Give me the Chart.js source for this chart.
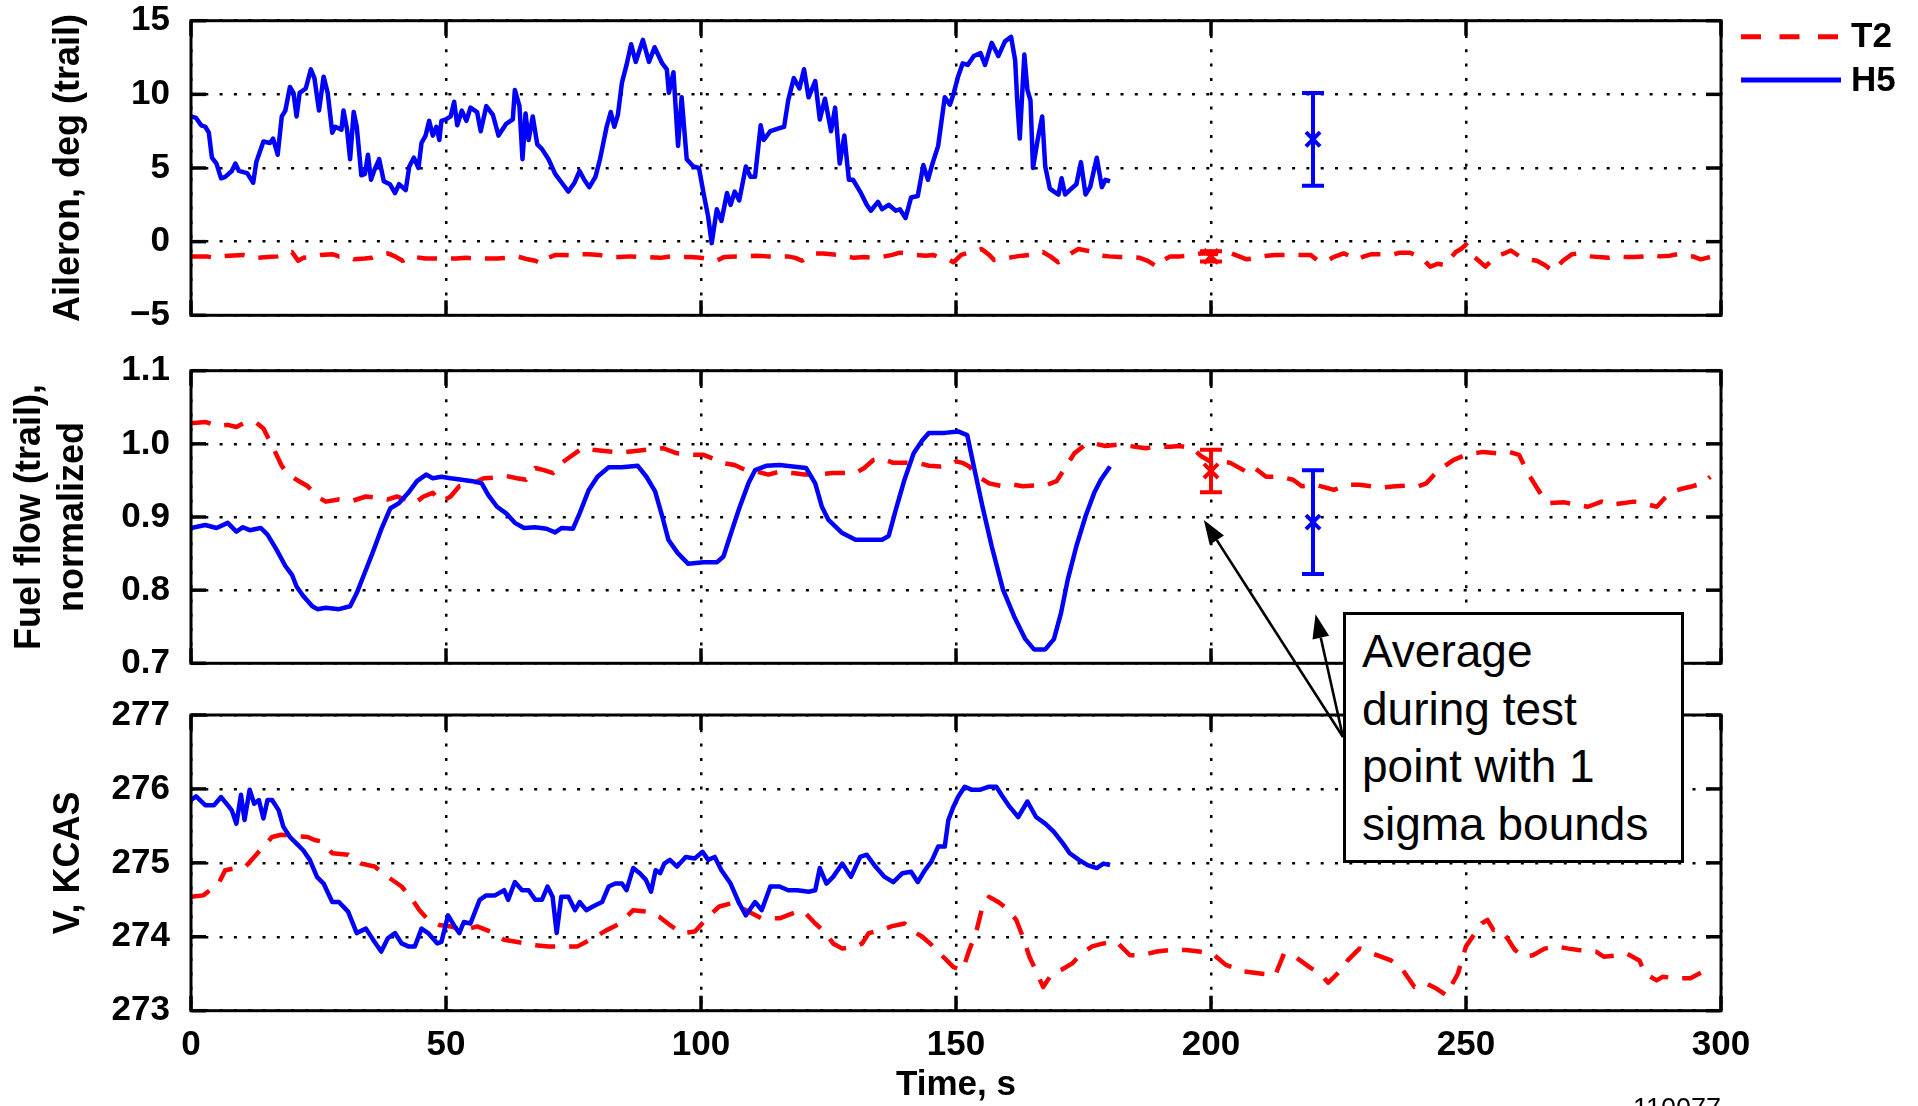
<!DOCTYPE html>
<html>
<head>
<meta charset="utf-8">
<script src="https://cdn.jsdelivr.net/npm/chart.js@4.4.1/dist/chart.umd.min.js"></script>
<style>
html,body{margin:0;padding:0;background:#fff;overflow:hidden;width:1918px;height:1106px;position:relative;}
canvas{position:absolute;left:0;}
#arrows{position:absolute;left:0;top:0;width:1918px;height:1106px;}
#note{position:absolute;left:1343px;top:612px;width:341px;height:251px;box-sizing:border-box;border:3px solid #000;background:#fff;
 font-family:"Liberation Sans",Arial,Helvetica,sans-serif;font-size:46px;line-height:57.5px;padding:8px 0 0 16px;color:#000;white-space:nowrap;}
#figid{position:absolute;left:1633px;top:1095px;font-family:"Liberation Sans",Arial,sans-serif;font-size:27px;line-height:27px;color:#000;}
</style>
</head>
<body>
<canvas id="c1" width="1918" height="345" style="top:0px"></canvas>
<canvas id="c2" width="1918" height="345" style="top:345px"></canvas>
<canvas id="c3" width="1918" height="416" style="top:690px"></canvas>
<svg id="arrows" xmlns="http://www.w3.org/2000/svg"></svg>
<div id="note">Average<br>during test<br>point with 1<br>sigma bounds</div>
<div id="figid">110077</div>
<script>
// ---------------- DATA ----------------
const seriesNames = ['T2', 'H5'];
const timeTicks = [0, 50, 100, 150, 200, 250, 300];
const aileronTicks = [-5, 0, 5, 10, 15];
const fuelTicks = [0.7, 0.8, 0.9, 1.0, 1.1];
const speedTicks = [273, 274, 275, 276, 277];

// [time s, value]
const h5Aileron = [[0,8.5],[1,8.4],[2,7.9],[2.8,7.8],[3.5,7.4],[4.1,5.7],[5,5.3],[5.9,4.3],[6.7,4.4],[8,4.8],[8.7,5.3],[9.4,4.8],[11,4.65],[12.2,4.0],[12.8,5.4],[14.2,6.8],[15.5,6.7],[16.1,7.0],[17,5.9],[17.8,8.5],[18.5,8.9],[19.4,10.5],[20.1,10.1],[20.7,8.5],[21.3,10.1],[22.5,10.4],[23.5,11.7],[24.2,11.1],[25.1,8.9],[26,11.2],[26.8,10.1],[27.7,7.4],[28.3,7.8],[29.5,7.6],[29.9,8.9],[30.6,7.6],[31.2,5.6],[31.9,8.8],[32.5,7.8],[33.4,4.5],[34.1,4.6],[34.7,5.9],[35.3,4.2],[36,4.9],[36.9,5.6],[37.8,4.1],[39,3.9],[40,3.3],[40.8,3.9],[42.1,3.5],[42.8,5.1],[43.7,5.7],[44.6,5.0],[45.2,6.7],[46,7.2],[46.7,8.2],[47.4,7.2],[48.1,7.8],[48.7,6.9],[49.1,8.2],[50,8.3],[50.9,8.5],[51.6,9.5],[52.2,7.9],[53.1,8.9],[54,8.2],[54.8,9.1],[56.1,8.8],[56.8,7.5],[57.9,9.2],[59.2,8.6],[60.3,7.2],[61.8,8.0],[63.1,8.3],[63.5,10.3],[64.4,9.2],[65,5.6],[65.6,8.7],[66.2,6.9],[67,8.5],[67.9,6.6],[68.8,6.3],[70.1,5.6],[71.4,4.6],[72.7,4.0],[74,3.4],[75.2,4.0],[76.2,4.8],[77.1,4.2],[78.1,3.7],[79.3,4.4],[80.2,5.6],[81.5,7.8],[82.3,8.8],[83,7.8],[83.7,8.6],[84.5,10.8],[85.4,12.0],[86.3,13.4],[87.2,12.2],[88.6,13.7],[89.8,12.2],[90.9,13.2],[92.4,12.1],[93.3,11.7],[93.7,10.1],[94.6,11.5],[95.5,6.5],[96.2,9.8],[97.2,5.6],[98.5,5.1],[99.6,5.0],[100.5,3.3],[101.4,1.7],[102.1,-0.1],[103.1,2.2],[104,1.4],[105.1,3.3],[105.8,2.5],[106.6,3.4],[107.5,2.8],[108.8,5.1],[109.7,4.4],[110.6,4.4],[111.7,7.9],[112.3,6.9],[113.6,7.5],[115.4,7.7],[116.3,7.8],[117.1,9.6],[118.2,11.1],[119.3,10.4],[120.2,11.7],[121.1,9.8],[122.4,10.9],[123.3,8.3],[124.3,9.7],[125.5,7.5],[126.3,9.1],[127.2,5.3],[128.1,7.2],[129,4.2],[129.8,4.2],[131.2,3.4],[132.5,2.5],[133.3,2.1],[134.7,2.7],[135.5,2.2],[136.8,2.5],[138.2,2.1],[139,2.2],[140.1,1.6],[141.2,3.0],[142.5,3.1],[143.6,5.2],[144.5,4.2],[145.3,5.2],[146.5,6.5],[147.8,9.8],[148.8,9.3],[149.5,10.0],[150.4,11.2],[151.3,12.1],[152.3,12.0],[153.5,12.6],[154.8,12.8],[155.7,12.0],[157,13.5],[158.3,12.6],[159.6,13.6],[160.8,13.9],[161.6,12.3],[162,9.6],[162.5,7.0],[163.4,12.7],[164,10.3],[164.6,9.6],[165.1,5.0],[166,6.9],[166.9,8.5],[167.5,5.1],[168.4,3.6],[169.2,3.4],[170.1,3.2],[170.7,4.3],[171.4,3.2],[172.3,3.5],[173.6,3.9],[174.5,5.4],[175.4,3.2],[176.3,3.7],[177.6,5.7],[178.6,3.7],[179.3,4.2],[180.2,4.1]];

const t2Aileron = [[0,-1.0],[3,-1.0],[4.8,-1.1],[6,-1.0],[7.5,-0.95],[10.2,-0.9],[11.5,-1.0],[12.8,-1.1],[15,-1.05],[17,-1.0],[18.5,-0.85],[19.8,-0.7],[21,-1.3],[22,-1.1],[23.5,-1.05],[25.5,-0.9],[27.7,-0.85],[29,-1.0],[30.5,-1.0],[32,-1.2],[34,-1.15],[35.5,-1.1],[37,-0.9],[38.6,-0.8],[40,-1.0],[41.5,-1.3],[42.8,-1.0],[44,-1.05],[46,-1.15],[48,-1.15],[50,-1.15],[52,-1.15],[54,-1.1],[56,-1.15],[58,-1.15],[60,-1.15],[62,-1.1],[64,-1.0],[66,-1.2],[67.5,-1.3],[68.8,-1.5],[70,-1.1],[71.5,-0.9],[73,-0.9],[75,-0.95],[76.5,-0.85],[78,-0.85],[80,-0.9],[82,-1.05],[84,-1.05],[86,-1.0],[88,-1.05],[90,-1.05],[92,-1.1],[94,-1.0],[96,-1.05],[98,-1.05],[100,-1.1],[102,-1.2],[103,-1.3],[104.5,-1.05],[107,-1.0],[109,-1.0],[111,-0.95],[113,-1.0],[115,-1.0],[117,-1.0],[118.5,-1.1],[119.8,-1.3],[121,-1.0],[122.5,-0.8],[124,-0.8],[125.5,-0.85],[127,-0.9],[128.5,-1.0],[130,-1.1],[132,-1.05],[134,-1.1],[136,-1.0],[137.5,-0.9],[139,-0.75],[140.5,-0.8],[142,-0.9],[144,-0.95],[145.5,-0.9],[147,-1.1],[148.5,-1.2],[149.5,-1.4],[151,-0.9],[153,-0.7],[155,-0.5],[156.5,-0.9],[157.5,-1.25],[159,-1.2],[161,-1.05],[163,-0.95],[164.5,-0.9],[166,-0.8],[167,-0.7],[168.5,-1.0],[170,-1.4],[171,-1.2],[172.5,-0.8],[174,-0.5],[175.5,-0.6],[177,-0.7],[178.5,-0.95],[180,-1.0],[182,-1.05],[184,-1.05],[186,-1.1],[187.6,-1.3],[189.4,-1.7],[190.5,-1.3],[192,-1.0],[194,-1.0],[196,-0.95],[198,-0.8],[200,-0.8],[202,-0.85],[204,-0.8],[205.5,-1.0],[207,-1.2],[209,-1.1],[211,-0.95],[212.6,-0.9],[214.5,-0.9],[216,-0.85],[217.5,-0.9],[219.5,-0.9],[221,-1.3],[222.5,-1.35],[224,-1.05],[226,-0.8],[227.5,-1.0],[228.7,-1.2],[230,-1.0],[231.5,-0.85],[233.7,-0.85],[235.5,-0.9],[237,-0.75],[239,-0.75],[240.7,-1.0],[242,-1.35],[243,-1.7],[244.5,-1.5],[246,-1.6],[247,-1.1],[248,-0.7],[249,-0.5],[250,-0.2],[251.5,-1.0],[252.5,-1.3],[253.8,-1.7],[255,-1.3],[256,-1.0],[257.5,-0.8],[258.8,-0.6],[260.5,-1.0],[262,-1.2],[263.9,-1.3],[265.5,-1.6],[267,-2.0],[269,-1.3],[270.8,-0.85],[272,-0.8],[273,-0.9],[274.5,-1.0],[276,-1.05],[278,-1.1],[280,-1.0],[281.5,-1.05],[283,-1.05],[285,-1.0],[286.5,-0.9],[288,-1.0],[290,-0.95],[291.5,-0.85],[293,-1.0],[294.5,-1.0],[296,-1.2],[297.2,-1.1],[298.3,-1.0]];

const h5Fuel = [[0,0.885],[2.8,0.889],[5,0.885],[7.2,0.892],[8.9,0.880],[10.2,0.886],[11.5,0.882],[13.7,0.885],[15,0.876],[16.8,0.855],[18.5,0.833],[19.8,0.821],[20.7,0.805],[22,0.792],[23.8,0.778],[24.8,0.774],[26.4,0.776],[29,0.774],[31.2,0.778],[32.5,0.796],[33.8,0.819],[35.6,0.851],[37.3,0.883],[39.1,0.912],[40.8,0.919],[42.6,0.933],[44.3,0.949],[46.1,0.958],[47.4,0.953],[49.1,0.955],[50.9,0.953],[53.1,0.951],[55.2,0.949],[57,0.946],[58.3,0.930],[60,0.914],[61.8,0.905],[63.5,0.892],[65.3,0.885],[67.5,0.886],[69.7,0.884],[71.4,0.879],[72.7,0.885],[74.9,0.884],[76.2,0.905],[78,0.937],[79.7,0.955],[81.9,0.968],[84.5,0.968],[87.6,0.970],[89.3,0.955],[91,0.935],[92.4,0.901],[93.6,0.869],[95.4,0.851],[97.5,0.836],[100.5,0.838],[103.1,0.838],[104.4,0.846],[105.8,0.876],[107.5,0.912],[109.3,0.946],[110.6,0.964],[112.8,0.970],[115.4,0.971],[118,0.969],[120.6,0.967],[122.4,0.946],[123.7,0.914],[125,0.896],[127.7,0.878],[130.3,0.869],[132.9,0.869],[135.5,0.869],[136.8,0.874],[138.2,0.910],[139.9,0.951],[141.7,0.987],[143.4,1.005],[144.7,1.015],[147.8,1.015],[150.4,1.017],[152.2,1.012],[153.5,0.969],[155.2,0.914],[157,0.860],[159.2,0.801],[161.4,0.764],[163.6,0.733],[165.3,0.719],[167.5,0.719],[169.2,0.733],[170.6,0.769],[171.9,0.814],[173.6,0.860],[175.4,0.901],[177.1,0.933],[178.4,0.951],[180.2,0.969]];

const t2Fuel = [[0,1.028],[2.8,1.030],[5.4,1.024],[7.2,1.026],[8.9,1.023],[10.2,1.028],[12.8,1.029],[14.2,1.021],[15,1.010],[16.3,0.992],[17.7,0.971],[19,0.958],[20.7,0.951],[22.9,0.942],[24.7,0.928],[26.4,0.921],[29,0.924],[31.6,0.922],[34.3,0.928],[36.9,0.926],[38.6,0.924],[40.4,0.928],[42.1,0.924],[43.9,0.919],[45.6,0.928],[47.4,0.933],[49.1,0.921],[50.9,0.928],[52.6,0.942],[55.2,0.946],[57.4,0.953],[59.6,0.954],[61.8,0.956],[63.9,0.953],[65.7,0.951],[67.5,0.967],[69.2,0.964],[71,0.960],[72.7,0.974],[74.5,0.983],[76.7,0.994],[78.8,0.992],[81.5,0.990],[84.1,0.988],[86.7,0.990],[89.3,0.992],[92.6,0.994],[95.3,0.987],[98.8,0.985],[100.5,0.985],[102.3,0.980],[104,0.974],[106.6,0.971],[108.8,0.964],[111,0.962],[113.2,0.958],[115.4,0.962],[118,0.960],[120.2,0.958],[122.8,0.958],[125.9,0.960],[128.5,0.960],[130.3,0.960],[132,0.967],[133.8,0.978],[135.5,0.980],[137.7,0.974],[140.3,0.974],[142.5,0.974],[144.7,0.970],[146.9,0.969],[148.7,0.971],[150,0.976],[151.3,0.974],[152.6,0.969],[154.4,0.955],[156.5,0.946],[159.2,0.942],[161.4,0.944],[163.1,0.942],[165.3,0.943],[167.9,0.944],[169.7,0.949],[171.4,0.967],[173.2,0.987],[175.4,0.999],[176.7,1.001],[179.3,0.997],[181.9,0.999],[184.1,0.997],[187.2,0.994],[189.4,0.996],[192,0.996],[193.8,0.997],[196.4,0.994],[198.1,0.983],[200.3,0.974],[202.1,0.976],[203.8,0.974],[206.9,0.962],[208.2,0.969],[210.8,0.955],[213.5,0.955],[216.1,0.951],[217.8,0.942],[220.6,0.944],[224.1,0.937],[226.8,0.944],[229.1,0.944],[231.4,0.942],[233.3,0.940],[236.1,0.942],[238.4,0.943],[240.7,0.942],[242.2,0.946],[243.8,0.958],[245.7,0.969],[247.6,0.978],[250,0.985],[251.5,0.987],[253.4,0.989],[256.1,0.987],[258.5,0.989],[260.4,0.985],[261.5,0.969],[262.3,0.958],[263.9,0.940],[265,0.928],[266.2,0.919],[269.3,0.920],[271.6,0.917],[273.9,0.914],[276.6,0.921],[278.5,0.917],[280.9,0.919],[282.8,0.921],[284.7,0.919],[287.4,0.914],[289,0.926],[290.5,0.935],[292.5,0.939],[294.4,0.942],[296.3,0.946],[297.9,0.955]];

const h5Speed = [[0,275.85],[1,275.90],[2.8,275.78],[4.5,275.78],[5.9,275.89],[7.2,275.78],[8,275.71],[8.9,275.53],[9.8,275.92],[10.5,275.58],[11.5,275.99],[12.4,275.80],[13.3,275.85],[14.2,275.60],[15,275.85],[15.9,275.85],[17.2,275.71],[18.1,275.49],[19.4,275.35],[20.7,275.26],[22,275.17],[23.3,275.04],[24.7,274.81],[26,274.72],[27.7,274.47],[29,274.47],[30.8,274.34],[32.5,274.05],[34.3,274.11],[36,273.93],[37.3,273.80],[38.6,273.98],[40,274.05],[41.3,273.91],[42.6,273.87],[43.9,273.87],[45.2,274.11],[46.5,274.05],[48.3,273.91],[49.1,273.93],[50.4,274.29],[51.7,274.14],[52.6,274.05],[53.5,274.20],[54.8,274.18],[56.6,274.50],[57.9,274.56],[59.6,274.56],[61.4,274.63],[62.2,274.50],[63.5,274.74],[64.9,274.63],[66.2,274.63],[67.5,274.50],[68.8,274.50],[69.9,274.68],[70.9,274.54],[71.7,274.05],[72.6,274.54],[74,274.54],[75.3,274.36],[76.2,274.47],[77.5,274.36],[78.8,274.41],[80.6,274.47],[81.9,274.68],[83.2,274.72],[84.5,274.72],[85.4,274.63],[86.7,274.93],[88,274.86],[89.2,274.77],[90.2,274.61],[91.1,274.90],[92,274.86],[92.8,274.99],[93.9,275.04],[95.3,274.95],[97,275.08],[98.8,275.06],[100.3,275.15],[101.4,275.04],[102.7,275.08],[104,274.90],[105.8,274.72],[107.5,274.45],[108.8,274.29],[110.6,274.47],[111.9,274.36],[113.6,274.68],[115.4,274.68],[117.1,274.63],[118.9,274.63],[121.1,274.61],[122.4,274.63],[123.3,274.93],[124.6,274.72],[125.9,274.81],[127.7,274.99],[129.4,274.81],[131.2,275.08],[132.5,275.11],[134.2,274.95],[136,274.81],[137.7,274.74],[139.5,274.86],[141.2,274.88],[142.5,274.74],[143.9,274.90],[145.2,275.02],[146.5,275.22],[147.8,275.22],[148.5,275.58],[149.5,275.76],[150.4,275.89],[151.7,276.03],[153,275.99],[154.8,275.99],[156.5,276.03],[157.9,276.03],[159.2,275.89],[160.5,275.76],[162.2,275.62],[164,275.83],[165.7,275.62],[167.5,275.53],[169.2,275.42],[171,275.26],[172.3,275.13],[174.1,275.04],[175.8,274.97],[177.6,274.93],[178.9,274.99],[180.2,274.97]];

const t2Speed = [[0,274.54],[2.4,274.56],[4.1,274.65],[5.4,274.72],[6.7,274.90],[8.9,274.93],[10.7,274.95],[12.4,275.08],[14.2,275.22],[15.9,275.35],[17.7,275.38],[20.3,275.36],[22.9,275.35],[24.2,275.31],[25.5,275.29],[27.7,275.13],[30.8,275.11],[33.4,274.99],[36,274.95],[38.6,274.81],[41.3,274.68],[43,274.54],[44.8,274.36],[46.5,274.23],[48.7,274.16],[50.9,274.14],[53.5,274.09],[56.1,274.14],[58.7,274.07],[61.4,273.96],[64,273.93],[67,273.89],[70.1,273.87],[73.6,273.87],[75.8,273.87],[78.8,273.98],[81.5,274.09],[84.1,274.18],[86.7,274.36],[89.3,274.34],[91.8,274.27],[93.5,274.18],[96.1,274.05],[98.8,274.07],[101.4,274.27],[103.6,274.41],[105.8,274.45],[108.8,274.36],[111.9,274.25],[115.4,274.25],[118.9,274.34],[120.2,274.34],[122.4,274.18],[124.2,274.07],[125.9,273.91],[127.7,273.84],[130.3,273.87],[131.6,273.91],[132.9,274.05],[135.5,274.09],[137.3,274.14],[139.9,274.18],[141.7,274.07],[143.4,274.00],[145.2,273.89],[146.9,273.77],[149.5,273.59],[151.3,273.55],[152.6,273.82],[153.9,274.05],[155.2,274.41],[156.5,274.54],[158.3,274.47],[160,274.38],[161.8,274.23],[163.1,274.00],[164.4,273.73],[166.2,273.46],[167.1,273.32],[168.8,273.50],[170.6,273.55],[172.8,273.64],[174.5,273.77],[176.7,273.87],[178.9,273.91],[181.5,273.93],[184.1,273.75],[186.3,273.75],[189.4,273.80],[192,273.82],[195.1,273.82],[197.7,273.80],[200.3,273.77],[202.9,273.62],[206.5,273.53],[210,273.50],[212.6,273.48],[214.3,273.77],[216.5,273.73],[219.3,273.59],[221.4,273.50],[223,273.38],[225.5,273.55],[226.8,273.68],[229.1,273.84],[231.8,273.77],[235.3,273.68],[237.6,273.55],[239.9,273.32],[242.2,273.37],[244.2,273.30],[246.1,273.21],[248.4,273.50],[250,273.87],[251.5,274.02],[253.1,274.18],[254.2,274.23],[255.4,274.09],[256.9,274.09],[258.1,273.98],[259.6,273.82],[261.2,273.73],[263.1,273.75],[265.4,273.84],[267.7,273.87],[270.1,273.84],[272,273.82],[275.5,273.80],[277,273.73],[280.1,273.75],[281.6,273.77],[284,273.68],[285.1,273.50],[287.4,273.41],[288.6,273.46],[290.9,273.44],[294,273.44],[297.1,273.55],[298.3,273.50]];

// test-point averages with 1-sigma bounds: [T2, H5]
const errorBarTime = [200, 220];
const aileronMean = [-1.0, 6.95];
const aileronSigma = [0.35, 3.15];
const fuelMean = [0.963, 0.893];
const fuelSigma = [0.029, 0.071];

// annotation arrow targets (time, fuel flow)
const arrowTargetTime = [198.6, 220.5];
const arrowTargetFuel = [0.896, 0.767];

// ---------------- STYLE ----------------
const RED = 'rgb(255,0,0)';
const BLUE = 'rgb(0,0,255)';
const FONT = '"Liberation Sans", Arial, Helvetica, sans-serif';
const RED_DASH = [20, 14];
Chart.defaults.font.family = FONT;
Chart.defaults.color = '#000';

const AREA_LEFT = 191, AREA_RIGHT = 1721, W = 1918;

function pts(a) { return a.map(p => ({ x: p[0], y: p[1] })); }

function lineDs(name, data, color, dash) {
  return { label: name, data: pts(data), borderColor: color, backgroundColor: color, borderWidth: 4.5,
    borderDash: dash, pointRadius: 0, tension: 0, borderJoinStyle: 'round', fill: false };
}

function errorDs(means, sigmas) {
  const colors = [RED, BLUE];
  const out = [];
  errorBarTime.forEach((t, i) => {
    out.push({ label: seriesNames[i] + ' sigma', data: [{ x: t, y: means[i] + sigmas[i] }, { x: t, y: means[i] - sigmas[i] }],
      borderColor: colors[i], borderWidth: 4, showLine: true, pointStyle: 'line', pointRadius: 11,
      pointBorderWidth: 4, pointBorderColor: colors[i], pointBackgroundColor: colors[i] });
    out.push({ label: seriesNames[i] + ' mean', data: [{ x: t, y: means[i] }], showLine: false,
      pointStyle: 'crossRot', pointRadius: 10, pointBorderWidth: 4, pointBorderColor: colors[i],
      pointBackgroundColor: colors[i], borderColor: colors[i] });
  });
  return out;
}

const framePlugin = {
  id: 'frame',
  afterDraw(chart) {
    const { ctx, chartArea: a, scales: { x, y } } = chart;
    ctx.save();
    ctx.setLineDash([]);
    ctx.strokeStyle = '#000';
    ctx.lineWidth = 3;
    ctx.strokeRect(a.left, a.top, a.right - a.left, a.bottom - a.top);
    ctx.lineWidth = 3.5;
    const L = 15;
    const seg = (x1, y1, x2, y2) => { ctx.beginPath(); ctx.moveTo(x1, y1); ctx.lineTo(x2, y2); ctx.stroke(); };
    x.ticks.forEach(t => { const p = x.getPixelForValue(t.value); seg(p, a.bottom, p, a.bottom - L); seg(p, a.top, p, a.top + L); });
    y.ticks.forEach(t => { const p = y.getPixelForValue(t.value); seg(a.left, p, a.left + L, p); seg(a.right, p, a.right - L, p); });
    ctx.restore();
  }
};

const legendPlugin = {
  id: 'sideLegend',
  afterDraw(chart) {
    const ctx = chart.ctx;
    const items = [{ text: seriesNames[0], color: RED, dash: [20, 18.5] }, { text: seriesNames[1], color: BLUE, dash: [] }];
    ctx.save();
    items.forEach((it, i) => {
      const yy = 36.7 + i * 43.3;
      ctx.strokeStyle = it.color; ctx.lineWidth = 5; ctx.setLineDash(it.dash);
      ctx.beginPath(); ctx.moveTo(1741, yy); ctx.lineTo(1841, yy); ctx.stroke();
      ctx.setLineDash([]);
      ctx.fillStyle = '#000'; ctx.font = 'bold 35px ' + FONT; ctx.textBaseline = 'middle'; ctx.textAlign = 'left';
      ctx.fillText(it.text, 1851, yy + 1);
    });
    ctx.restore();
  }
};

function axisBase(min, max, tickArr) {
  return {
    type: 'linear', min: min, max: max,
    afterBuildTicks: s => { s.ticks = tickArr.map(v => ({ value: v })); },
    grid: { color: '#000', lineWidth: 2.5, drawTicks: false },
    border: { display: false, dash: [3, 11.3] }
  };
}

function makePanel(id, canvasTop, canvasH, areaTop, areaBottom, cfg) {
  const X_AXIS_H = 92;
  const xs = axisBase(0, 300, timeTicks);
  xs.ticks = { display: cfg.showX, padding: 17, autoSkip: false, maxRotation: 0,
    font: { size: 35, weight: 'bold', lineHeight: 1 } };
  xs.title = { display: cfg.showX, text: 'Time, s', font: { size: 35, weight: 'bold', lineHeight: 1 }, padding: { top: 5, bottom: 0 } };
  xs.afterFit = s => { s.height = cfg.showX ? X_AXIS_H : 0; s.paddingLeft = 0; s.paddingRight = 0; s.paddingTop = 0; s.paddingBottom = 0; };
  const ys = axisBase(cfg.ymin, cfg.ymax, cfg.yticks);
  ys.afterFit = s => { s.width = AREA_LEFT; s.paddingTop = 0; s.paddingBottom = 0; s.paddingLeft = 0; s.paddingRight = 0; };
  ys.ticks = { padding: 21, font: { size: 35, weight: 'bold', lineHeight: 1 }, callback: cfg.fmt };
  ys.title = { display: true, text: cfg.title, font: { size: 36, weight: 'bold', lineHeight: 1.2 }, padding: { top: cfg.titlePad, bottom: 0 } };
  const padBottom = canvasTop + canvasH - areaBottom - (cfg.showX ? X_AXIS_H : 0);
  return new Chart(document.getElementById(id), {
    type: 'line',
    data: { datasets: cfg.datasets },
    options: {
      responsive: false, animation: false, devicePixelRatio: 1, events: [],
      layout: { padding: { left: 0, right: W - AREA_RIGHT, top: areaTop - canvasTop, bottom: padBottom } },
      plugins: { legend: { display: false }, tooltip: { enabled: false } },
      scales: { x: xs, y: ys }
    },
    plugins: cfg.plugins
  });
}

const fmtAil = v => (v < 0 ? '\u2212' + Math.abs(v) : String(v));
const fmtFuel = v => Number(v).toFixed(1);
const fmtInt = v => String(v);

makePanel('c1', 0, 345, 20.7, 315.3, {
  showX: false, ymin: -5, ymax: 15, yticks: aileronTicks, fmt: fmtAil,
  title: 'Aileron, deg (trail)', titlePad: 47,
  datasets: [...errorDs(aileronMean, aileronSigma), lineDs('H5', h5Aileron, BLUE, []), lineDs('T2', t2Aileron, RED, RED_DASH)],
  plugins: [framePlugin, legendPlugin]
});

const fuelChart = makePanel('c2', 345, 345, 370.7, 663.3, {
  showX: false, ymin: 0.7, ymax: 1.1, yticks: fuelTicks, fmt: fmtFuel,
  title: ['Fuel flow (trail),', 'normalized'], titlePad: 8,
  datasets: [...errorDs(fuelMean, fuelSigma), lineDs('H5', h5Fuel, BLUE, []), lineDs('T2', t2Fuel, RED, RED_DASH)],
  plugins: [framePlugin]
});

makePanel('c3', 690, 416, 715, 1010.7, {
  showX: true, ymin: 273, ymax: 277, yticks: speedTicks, fmt: fmtInt,
  title: 'V, KCAS', titlePad: 47,
  datasets: [lineDs('H5', h5Speed, BLUE, []), lineDs('T2', t2Speed, RED, RED_DASH)],
  plugins: [framePlugin]
});

// ---------------- annotation arrows ----------------
(function () {
  const svg = document.getElementById('arrows');
  const NS = 'http://www.w3.org/2000/svg';
  const note = document.getElementById('note');
  const sx = note.offsetLeft, sy = note.offsetTop + 125;
  const xs = fuelChart.scales.x, ys = fuelChart.scales.y;
  const canvasTop = 345;
  arrowTargetTime.forEach((t, i) => {
    const tx = xs.getPixelForValue(t), ty = canvasTop + ys.getPixelForValue(arrowTargetFuel[i]);
    const dx = tx - sx, dy = ty - sy, len = Math.hypot(dx, dy), ux = dx / len, uy = dy / len;
    const hl = 24, hw = 8.5;
    const bx = tx - ux * hl, by = ty - uy * hl;
    const ln = document.createElementNS(NS, 'line');
    ln.setAttribute('x1', sx); ln.setAttribute('y1', sy); ln.setAttribute('x2', bx); ln.setAttribute('y2', by);
    ln.setAttribute('stroke', '#000'); ln.setAttribute('stroke-width', '2.6');
    svg.appendChild(ln);
    const pg = document.createElementNS(NS, 'polygon');
    pg.setAttribute('points', `${tx},${ty} ${bx - uy * hw},${by + ux * hw} ${bx + uy * hw},${by - ux * hw}`);
    pg.setAttribute('fill', '#000');
    svg.appendChild(pg);
  });
})();
</script>
</body>
</html>
